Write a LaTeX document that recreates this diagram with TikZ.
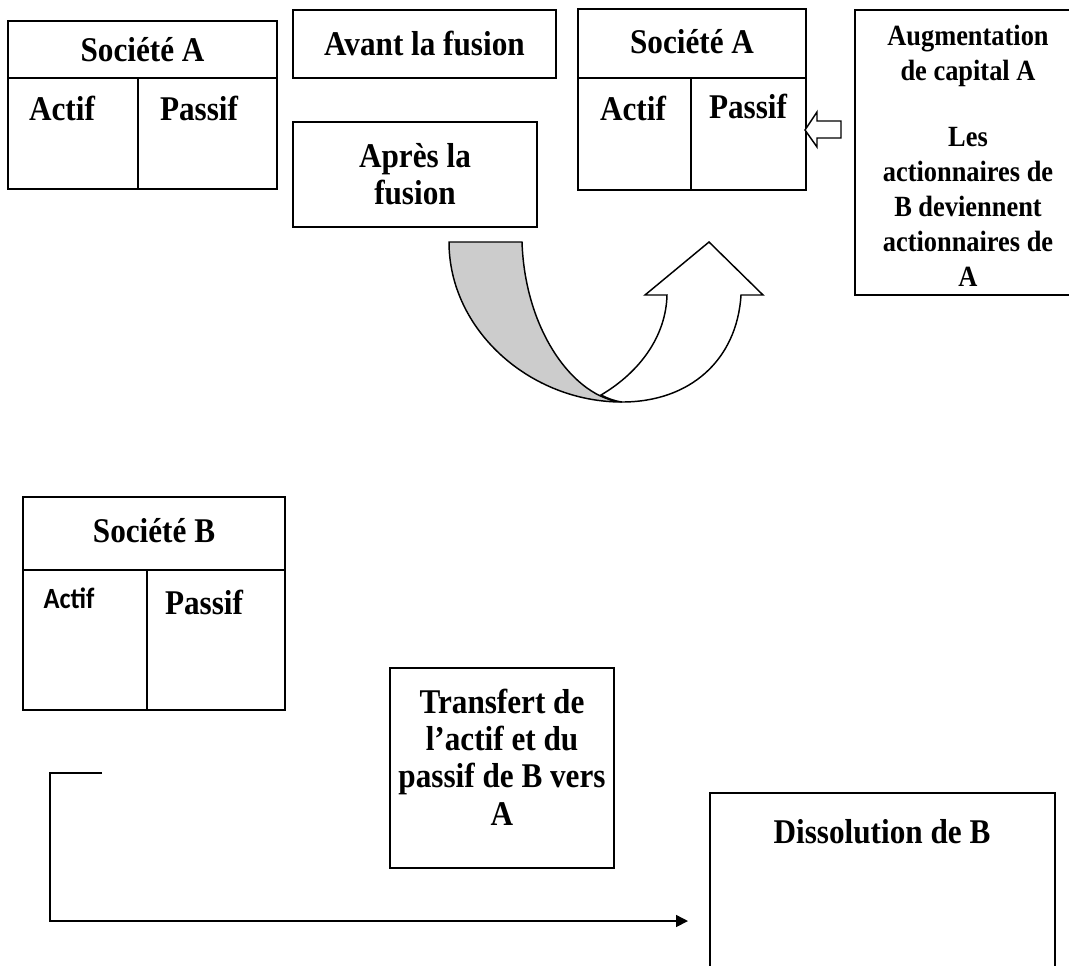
\documentclass[tikz,border=0pt]{standalone}
\usepackage{fontspec}
\setmainfont[FakeStretch=0.9]{Liberation Serif}
\newfontfamily\sansbold[FakeStretch=0.9]{Carlito}
\usetikzlibrary{arrows.meta}
\begin{document}
\begin{tikzpicture}[x=0.75pt,y=-0.75pt,
  frame/.style={draw=black,line width=1.2pt},
  lbl/.style={inner sep=0pt,align=center,font=\fontsize{26}{28}\selectfont\bfseries},
  small/.style={inner sep=0pt,align=center,font=\fontsize{22}{26.3}\selectfont\bfseries},
  link/.style={draw=black,line width=1.2pt,-{Triangle[length=9pt,width=9pt]}}]
\useasboundingbox (0,0) rectangle (1069,965);

% ---- Société A (before) ----
\draw[frame] (8,21) rectangle (277,189);
\draw[frame] (8,78) -- (277,78);
\draw[frame] (138,78) -- (138,189);
\node[lbl] (saTitle) at (142.5,50) {Société A};
\node[lbl] (saActif) at (62,108) {Actif};
\node[lbl] (saPassif) at (199,108) {Passif};

% ---- phase labels ----
\draw[frame] (293,10) rectangle (556,78);
\node[lbl] (avant) at (424.5,44) {Avant la fusion};
\draw[frame] (293,122) rectangle (537,227);
\node[lbl] (apres) at (415,174) {Après la\\fusion};

% ---- Société A (after) ----
\draw[frame] (578,9) rectangle (806,190);
\draw[frame] (578,78) -- (806,78);
\draw[frame] (691,78) -- (691,190);
\node[lbl] (sbTitle) at (692,42) {Société A};
\node[lbl] (sbActif) at (633,108) {Actif};
\node[lbl] (sbPassif) at (748,106) {Passif};

% ---- capital increase ----
\draw[frame] (1080,10) -- (855,10) -- (855,295) -- (1080,295);
\node[small] (augm) at (968,56) {Augmentation\\de capital A};
\node[small] (actio) at (968,207) {Les\\actionnaires de\\B deviennent\\actionnaires de\\A};

% hollow block arrow pointing into the liabilities column
\draw[line width=1.1pt,fill=white]
  (805,130) -- (817,112) -- (817,121) -- (841,121) -- (841,138)
  -- (817,138) -- (817,147) -- cycle;

% ---- U-turn ribbon arrow ----
\draw[line width=1.1pt,fill=black!20]
  (449,242) -- (522,242)
  .. controls (525,332) and (575,398) .. (622,402)
  .. controls (530,402) and (449,330) .. (449,242) -- cycle;
\draw[line width=1.1pt,fill=white]
  (601,395) .. controls (640,372) and (666,336) .. (667,295)
  -- (645,295) -- (709,242) -- (763,295) -- (741,295)
  .. controls (737,360) and (690,402) .. (622,402)
  .. controls (614,401) and (607,398) .. (601,395) -- cycle;

% ---- Société B ----
\draw[frame] (23,497) rectangle (285,710);
\draw[frame] (23,570) -- (285,570);
\draw[frame] (147,570) -- (147,710);
\node[lbl] (scTitle) at (154,531) {Société B};
\node[inner sep=0pt,font=\sansbold\fontsize{22}{24}\selectfont\bfseries] (scActif) at (69,598) {Actif};
\node[lbl] (scPassif) at (204,602) {Passif};

% ---- transfer ----
\draw[frame] (390,668) rectangle (614,868);
\node[lbl] (transf) at (502,757) {Transfert de\\l’actif et du\\passif de B vers\\A};

% ---- dissolution ----
\draw[frame] (710,980) -- (710,793) -- (1055,793) -- (1055,980);
\node[lbl] (dissol) at (882,832) {Dissolution de B};

% ---- bracket connector ----
\coordinate (bStart) at (102,773);
\coordinate (bCorner1) at (50,773);
\coordinate (bCorner2) at (50,921);
\coordinate (bEnd) at (688,921);
\draw[link] (bStart) -- (bCorner1) -- (bCorner2) -- (bEnd);
\end{tikzpicture}
\end{document}
